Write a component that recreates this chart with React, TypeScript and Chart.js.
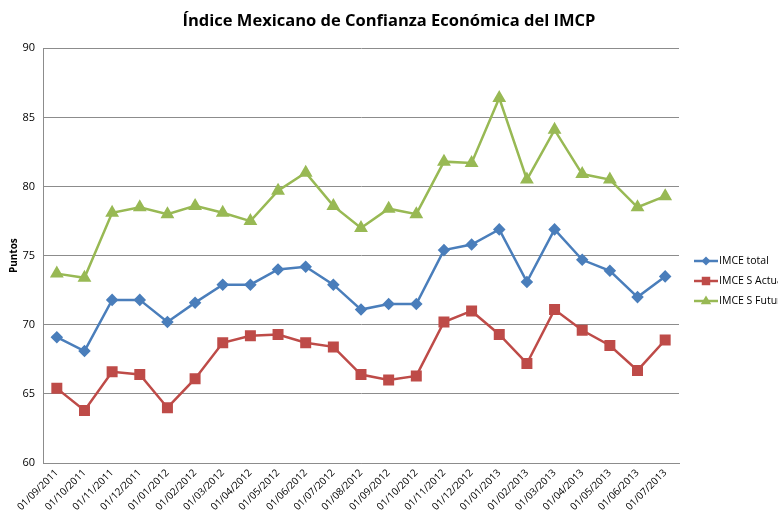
import React, { useEffect, useRef } from "react";
import { Chart, registerables } from "chart.js";

Chart.register(...registerables);

const categories = [
  "01/09/2011", "01/10/2011", "01/11/2011", "01/12/2011", "01/01/2012", "01/02/2012",
  "01/03/2012", "01/04/2012", "01/05/2012", "01/06/2012", "01/07/2012", "01/08/2012",
  "01/09/2012", "01/10/2012", "01/11/2012", "01/12/2012", "01/01/2013", "01/02/2013",
  "01/03/2013", "01/04/2013", "01/05/2013", "01/06/2013", "01/07/2013",
];

const imceTotal = [
  69.1, 68.1, 71.8, 71.8, 70.2, 71.6, 72.9, 72.9, 74.0, 74.2, 72.9, 71.1,
  71.5, 71.5, 75.4, 75.8, 76.9, 73.1, 76.9, 74.7, 73.9, 72.0, 73.5,
];

const imceActual = [
  65.4, 63.8, 66.6, 66.4, 64.0, 66.1, 68.7, 69.2, 69.3, 68.7, 68.4, 66.4,
  66.0, 66.3, 70.2, 71.0, 69.3, 67.2, 71.1, 69.6, 68.5, 66.7, 68.9,
];

const imceFutura = [
  73.7, 73.4, 78.1, 78.5, 78.0, 78.6, 78.1, 77.5, 79.7, 81.0, 78.6, 77.0,
  78.4, 78.0, 81.8, 81.7, 86.4, 80.5, 84.1, 80.9, 80.5, 78.5, 79.3,
];

const seriesLabels = ["IMCE total", "IMCE S Actual", "IMCE S Futura"];
const yMin = 60;
const yMax = 90;
const yStep = 5;

const FONT = "'Open Sans', 'Liberation Sans', sans-serif";
const GRID = "#8c8c8c";

function drawMarker(ctx: CanvasRenderingContext2D, style: string, x: number, y: number, r: number, color: string) {
  ctx.save();
  ctx.fillStyle = color;
  ctx.beginPath();
  if (style === "rectRot") {
    ctx.moveTo(x, y - r);
    ctx.lineTo(x + r, y);
    ctx.lineTo(x, y + r);
    ctx.lineTo(x - r, y);
  } else if (style === "rect") {
    const s = r * Math.SQRT1_2;
    ctx.rect(x - s, y - s, 2 * s, 2 * s);
  } else {
    ctx.moveTo(x, y - r);
    ctx.lineTo(x + r * 0.95, y + r * 0.6);
    ctx.lineTo(x - r * 0.95, y + r * 0.6);
  }
  ctx.closePath();
  ctx.fill();
  ctx.restore();
}

const excelLegend = {
  id: "excelLegend",
  afterDraw(chart: any) {
    const ctx: CanvasRenderingContext2D = chart.ctx;
    const x0 = chart.chartArea.right + 15;
    const midY = 281;
    const gap = 20;
    chart.data.datasets.forEach((ds: any, i: number) => {
      const y = midY + (i - 1) * gap;
      ctx.save();
      ctx.strokeStyle = ds.borderColor;
      ctx.lineWidth = 2.5;
      ctx.beginPath();
      ctx.moveTo(x0, y);
      ctx.lineTo(x0 + 24, y);
      ctx.stroke();
      drawMarker(ctx, ds.pointStyle, x0 + 12, y, ds.pointRadius, ds.pointBackgroundColor);
      ctx.fillStyle = "#000";
      ctx.font = `10.5px ${FONT}`;
      ctx.textBaseline = "middle";
      ctx.textAlign = "left";
      ctx.fillText(ds.label, x0 + 25, y);
      ctx.restore();
    });
  },
};

export default function App() {
  const ref = useRef<HTMLCanvasElement | null>(null);

  useEffect(() => {
    if (!ref.current) return;
    const chart = new Chart(ref.current, {
      type: "line",
      data: {
        labels: categories,
        datasets: [
          {
            label: seriesLabels[0],
            data: imceTotal,
            borderColor: "#4A7EBB",
            backgroundColor: "#4A7EBB",
            pointBackgroundColor: "#4A7EBB",
            pointBorderColor: "#4A7EBB",
            pointStyle: "rectRot",
            pointRadius: 4.5,
            borderWidth: 2.5,
            tension: 0,
          },
          {
            label: seriesLabels[1],
            data: imceActual,
            borderColor: "#BE4B48",
            backgroundColor: "#BE4B48",
            pointBackgroundColor: "#BE4B48",
            pointBorderColor: "#BE4B48",
            pointStyle: "rect",
            pointRadius: 6,
            borderWidth: 2.5,
            tension: 0,
          },
          {
            label: seriesLabels[2],
            data: imceFutura,
            borderColor: "#98B954",
            backgroundColor: "#98B954",
            pointBackgroundColor: "#98B954",
            pointBorderColor: "#98B954",
            pointStyle: "triangle",
            pointRadius: 5.5,
            borderWidth: 2.5,
            tension: 0,
          },
        ],
      },
      options: {
        responsive: false,
        animation: false,
        layout: { padding: 0 },
        plugins: {
          legend: { display: false },
          tooltip: { enabled: false },
          title: {
            display: true,
            text: "Índice Mexicano de Confianza Económica del IMCP",
            color: "#000",
            font: { family: FONT, size: 16.5, weight: "bold" },
            padding: { top: 11, bottom: 17.5 },
          },
        },
        scales: {
          x: {
            offset: true,
            grid: { display: false, drawTicks: false },
            border: { display: true, color: GRID, width: 1 },
            ticks: {
              minRotation: 45,
              maxRotation: 45,
              autoSkip: false,
              color: "#000",
              padding: 4,
              font: { family: FONT, size: 10 },
            },
            afterFit: (scale: any) => {
              scale.height = 51;
            },
          },
          y: {
            min: yMin,
            max: yMax,
            grid: { color: GRID, drawTicks: false },
            border: { display: true, color: GRID, width: 1 },
            ticks: {
              stepSize: yStep,
              color: "#000",
              padding: 8,
              font: { family: FONT, size: 11 },
            },
            title: {
              display: true,
              text: "Puntos",
              color: "#000",
              font: { family: FONT, size: 10, weight: "bold" },
              padding: { top: 8, bottom: 0 },
            },
            afterFit: (scale: any) => {
              scale.width = 43;
            },
          },
          legendSpace: {
            type: "linear",
            position: "right",
            display: true,
            grid: { display: false, drawTicks: false },
            border: { display: false },
            ticks: { display: false },
            afterFit: (scale: any) => {
              scale.width = 99;
            },
          },
        },
      },
      plugins: [excelLegend],
    });
    return () => chart.destroy();
  }, []);

  return (
    <div style={{ position: "fixed", left: 0, top: 0, width: 778, height: 514, overflow: "hidden", background: "#fff" }}>
      <canvas ref={ref} width={778} height={514} style={{ display: "block" }} />
    </div>
  );
}
